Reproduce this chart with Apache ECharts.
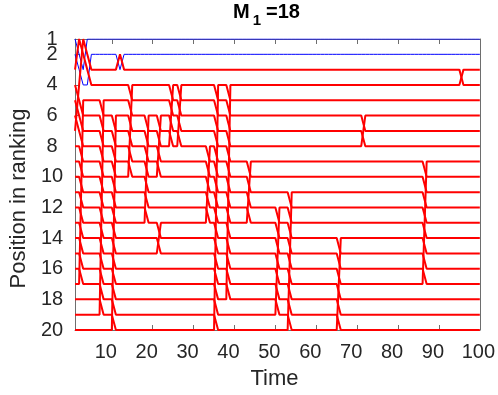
<!DOCTYPE html>
<html>
<head>
<meta charset="utf-8">
<script src="https://cdn.jsdelivr.net/npm/echarts@6/dist/echarts.min.js"></script>
<style>
  html, body { margin: 0; padding: 0; background: #fff; }
  #chart { width: 498px; height: 395px; }
</style>
</head>
<body>
<div id="chart"></div>
<script>
const timeTicks = [10, 20, 30, 40, 50, 60, 70, 80, 90, 100];
const rankTicks = [1, 2, 4, 6, 8, 10, 12, 14, 16, 18, 20];
const nItems = 20;
const nSteps = 100;
// items are named by their position at time 1; these two are drawn blue
const blueItems = [1, 2];
// ranking changes: [time, from position, to position]
// the item at "from" moves to "to" between time and time+1, the ones between shift by one
const events = [
  [1, 3, 1], [1, 7, 4], [2, 4, 1], [3, 3, 1], [4, 4, 2],
  [2, 17, 5],
  [7, 19, 5],
  [10, 20, 6],
  [11, 3, 2], [12, 3, 2],
  [14, 10, 4],
  [18, 13, 6],
  [21, 10, 6], [21, 15, 13],
  [24, 8, 4], [26, 8, 4],
  [33, 13, 8],
  [35, 20, 4],
  [38, 18, 4],
  [43, 13, 9],
  [50, 19, 12],
  [53, 20, 11],
  [65, 20, 14],
  [71, 8, 6],
  [86, 17, 9],
  [95, 4, 3]
];

// ranking of every item at every time
let order = [];
for (let i = 1; i <= nItems; i++) order.push(i);
const tracks = {};
for (let i = 1; i <= nItems; i++) tracks[i] = [];
for (let t = 1; t <= nSteps; t++) {
  order.forEach((item, k) => tracks[item].push([t, k + 1]));
  events.filter(e => e[0] === t).forEach(e => {
    const item = order.splice(e[1] - 1, 1)[0];
    order.splice(e[2] - 1, 0, item);
  });
}

const series = [];
const drawOrder = blueItems.concat(order.filter(i => blueItems.indexOf(i) < 0).sort((a, b) => a - b));
drawOrder.forEach(item => {
  const blue = blueItems.indexOf(item) >= 0;
  series.push({
    type: 'line',
    data: tracks[item],
    showSymbol: false,
    silent: true,
    lineStyle: { color: blue ? '#0000ff' : '#ff0000', width: blue ? 1 : 2 },
    z: blue ? 2 : 3
  });
});

const axisColor = '#6e6e6e';
const labelColor = '#262626';
const font = 'Liberation Sans, Arial, Helvetica, sans-serif';
const rankLabel = {
  align: 'center', margin: 23, fontFamily: font, fontSize: 20, color: labelColor,
  showMinLabel: true, showMaxLabel: true
};

const chart = echarts.init(document.getElementById('chart'));
chart.setOption({
  animation: false,
  grid: { left: 63, right: 16, top: 39, bottom: 58 },
  title: {
    text: '{m|M}{s|1}{m|=18}',
    left: 228,
    top: -3,
    textStyle: {
      rich: {
        m: { fontFamily: font, fontWeight: 'bold', fontSize: 20, color: '#000', lineHeight: 26, verticalAlign: 'top' },
        s: { fontFamily: font, fontWeight: 'bold', fontSize: 15, color: '#000', lineHeight: 26, verticalAlign: 'bottom', padding: [0, 5, 0, 3] }
      }
    }
  },
  xAxis: [{
    type: 'value', min: 1, max: 100, position: 'bottom',
    name: 'Time', nameLocation: 'middle', nameGap: 38,
    nameTextStyle: { fontFamily: font, fontSize: 22, color: labelColor, padding: [0, 6, 0, 0] },
    axisLine: { lineStyle: { color: axisColor } },
    axisTick: { inside: true, length: 5, customValues: timeTicks, lineStyle: { color: axisColor } },
    axisLabel: {
      customValues: timeTicks, margin: 12, fontFamily: font, fontSize: 20, color: labelColor,
      showMinLabel: true, showMaxLabel: true,
      formatter: v => v === 100 ? '{c|100}' : '{a|' + v + '}',
      rich: { a: { padding: [0, 12, 0, 0] }, c: { padding: [0, 3, 0, 0] } }
    },
    splitLine: { show: false }
  }, {
    type: 'value', min: 1, max: 100, position: 'top',
    axisLine: { lineStyle: { color: axisColor } },
    axisTick: { inside: true, length: 5, customValues: timeTicks, lineStyle: { color: axisColor } },
    axisLabel: { show: false },
    splitLine: { show: false }
  }],
  yAxis: [{
    type: 'value', min: 1, max: 20, inverse: true, position: 'left',
    name: 'Position in ranking', nameLocation: 'middle', nameGap: 45, nameRotate: 90,
    nameTextStyle: { fontFamily: font, fontSize: 22, color: labelColor, padding: [0, 28, 0, 0] },
    axisLine: { show: true, lineStyle: { color: axisColor } },
    axisTick: { show: true, inside: true, length: 5, customValues: rankTicks, lineStyle: { color: axisColor } },
    axisLabel: Object.assign({ customValues: rankTicks.filter(v => v !== 2) }, rankLabel),
    splitLine: { show: false }
  }, {
    type: 'value', min: 1, max: 20, inverse: true, position: 'right',
    axisLine: { show: true, lineStyle: { color: axisColor } },
    axisTick: { show: false },
    axisLabel: { show: false },
    splitLine: { show: false }
  }, {
    // second label row so that "2" is not dropped next to "1"
    type: 'value', min: 1, max: 20, inverse: true, position: 'left', offset: 0,
    axisLine: { show: false },
    axisTick: { show: false },
    axisLabel: Object.assign({ customValues: [2] }, rankLabel),
    splitLine: { show: false }
  }],
  series: series
});
</script>
</body>
</html>
